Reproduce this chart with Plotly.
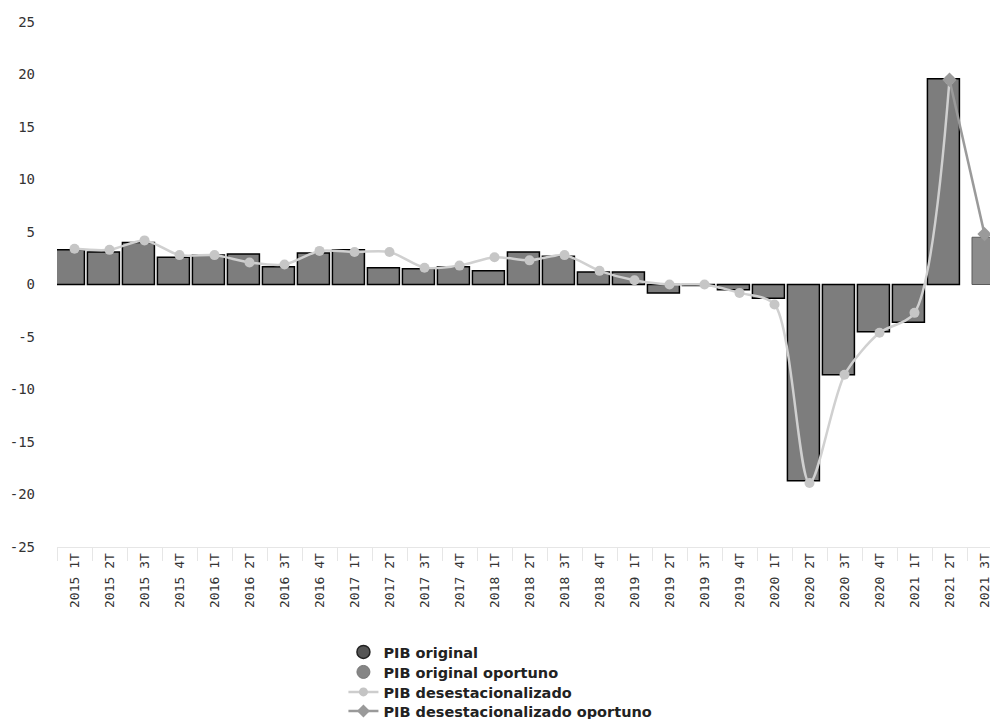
import plotly.graph_objects as go

categories = ["2015 1T", "2015 2T", "2015 3T", "2015 4T",
              "2016 1T", "2016 2T", "2016 3T", "2016 4T",
              "2017 1T", "2017 2T", "2017 3T", "2017 4T",
              "2018 1T", "2018 2T", "2018 3T", "2018 4T",
              "2019 1T", "2019 2T", "2019 3T", "2019 4T",
              "2020 1T", "2020 2T", "2020 3T", "2020 4T",
              "2021 1T", "2021 2T", "2021 3T"]

pib_original = [3.3, 3.1, 4.0, 2.6,
                2.8, 2.9, 1.7, 3.0,
                3.3, 1.6, 1.5, 1.7,
                1.3, 3.1, 2.7, 1.2,
                1.2, -0.8, -0.1, -0.5,
                -1.3, -18.7, -8.6, -4.5,
                -3.6, 19.6, None]

pib_original_oportuno = [None] * 26 + [4.5]

pib_desest = [3.4, 3.3, 4.2, 2.8,
              2.8, 2.1, 1.9, 3.2,
              3.1, 3.1, 1.6, 1.8,
              2.6, 2.3, 2.8, 1.3,
              0.4, 0.0, 0.0, -0.8,
              -1.9, -18.9, -8.6, -4.6,
              -2.7, 19.5, None]

pib_desest_oportuno = [None] * 25 + [19.5, 4.8]

y_tick_values = [-25, -20, -15, -10, -5, 0, 5, 10, 15, 20, 25]
y_tick_labels = ["-25", "-20", "-15", "-10", "-5", "0", "5", "10", "15", "20", "25"]

AXIS_FONT = "DejaVu Sans Mono"
LEGEND_FONT = "DejaVu Sans"

fig = go.Figure()

fig.add_trace(go.Bar(
    x=categories, y=pib_original, name="PIB original",
    marker=dict(color="#7d7d7d", line=dict(color="#000000", width=1.5)),
    width=0.914, offset=-0.631, showlegend=False,
))
fig.add_trace(go.Bar(
    x=categories, y=pib_original_oportuno, name="PIB original oportuno",
    marker=dict(color="#8c8c8c", line=dict(color="#5a5a5a", width=1)),
    width=0.914, offset=-0.357, showlegend=False,
))
fig.add_trace(go.Scatter(
    x=categories, y=pib_desest, name="PIB desestacionalizado",
    mode="lines+markers",
    line=dict(color="#d0d0d0", width=2.5, shape="spline", smoothing=0.8),
    marker=dict(symbol="circle", size=10, color="#c6c6c6"),
    showlegend=False,
))
fig.add_trace(go.Scatter(
    x=categories, y=pib_desest_oportuno, name="PIB desestacionalizado oportuno",
    mode="lines+markers",
    line=dict(color="#9a9a9a", width=2.5),
    marker=dict(symbol="diamond", size=11, color="#9a9a9a"),
    showlegend=False,
))

# legend entries (symbols as in the original legend), one row per legend box
fig.add_trace(go.Scatter(x=[None], y=[None], name="PIB original", mode="markers",
                         legend="legend",
                         marker=dict(symbol="circle", size=13, color="#555555",
                                     line=dict(color="#222222", width=1.5))))
fig.add_trace(go.Scatter(x=[None], y=[None], name="PIB original oportuno", mode="markers",
                         legend="legend2",
                         marker=dict(symbol="circle", size=13, color="#858585",
                                     line=dict(color="#777777", width=1))))
fig.add_trace(go.Scatter(x=[None], y=[None], name="PIB desestacionalizado", mode="lines+markers",
                         legend="legend3",
                         line=dict(color="#cdcdcd", width=2.5),
                         marker=dict(symbol="circle", size=9, color="#c4c4c4")))
fig.add_trace(go.Scatter(x=[None], y=[None], name="PIB desestacionalizado oportuno", mode="lines+markers",
                         legend="legend4",
                         line=dict(color="#9a9a9a", width=2.5),
                         marker=dict(symbol="diamond", size=10, color="#9a9a9a")))

PLOT_BOTTOM = 547
PLOT_H = 525
row_centers_px = [652, 672, 692, 711]


def legend_box(center_px):
    return dict(
        orientation="v", x=0.307, xanchor="left",
        y=-(center_px - PLOT_BOTTOM) / PLOT_H, yanchor="middle",
        font=dict(family=LEGEND_FONT, size=14.5, color="#222222", weight="bold"),
        bgcolor="rgba(0,0,0,0)", borderwidth=0,
    )


fig.update_layout(
    width=990, height=719, autosize=False,
    margin=dict(l=57, r=0, t=22, b=172, pad=0, autoexpand=False),
    paper_bgcolor="#ffffff", plot_bgcolor="#ffffff",
    barmode="overlay",
    font=dict(family=AXIS_FONT, size=13, color="#333333"),
    legend=legend_box(row_centers_px[0]),
    legend2=legend_box(row_centers_px[1]),
    legend3=legend_box(row_centers_px[2]),
    legend4=legend_box(row_centers_px[3]),
    xaxis=dict(
        type="category", categoryorder="array", categoryarray=categories,
        range=[-0.5, 26.157],
        tickangle=-90, tickson="boundaries", ticks="outside", ticklen=13,
        tickcolor="#e6e6e6", tickwidth=1,
        showline=True, linecolor="#e6e6e6", linewidth=1,
        showgrid=False, zeroline=False,
        tickfont=dict(family=AXIS_FONT, size=13, color="#333333"),
    ),
    yaxis=dict(
        range=[-25, 25], tickvals=y_tick_values, ticktext=y_tick_labels,
        showgrid=False, zeroline=False, showline=False, ticks="",
        ticklabelstandoff=21,
        tickfont=dict(family=AXIS_FONT, size=14, color="#333333"),
    ),
)

fig.write_html(
    "out.html",
    config={"displayModeBar": False},
    post_script="document.body.style.margin='0px';document.body.style.overflow='hidden';",
)
